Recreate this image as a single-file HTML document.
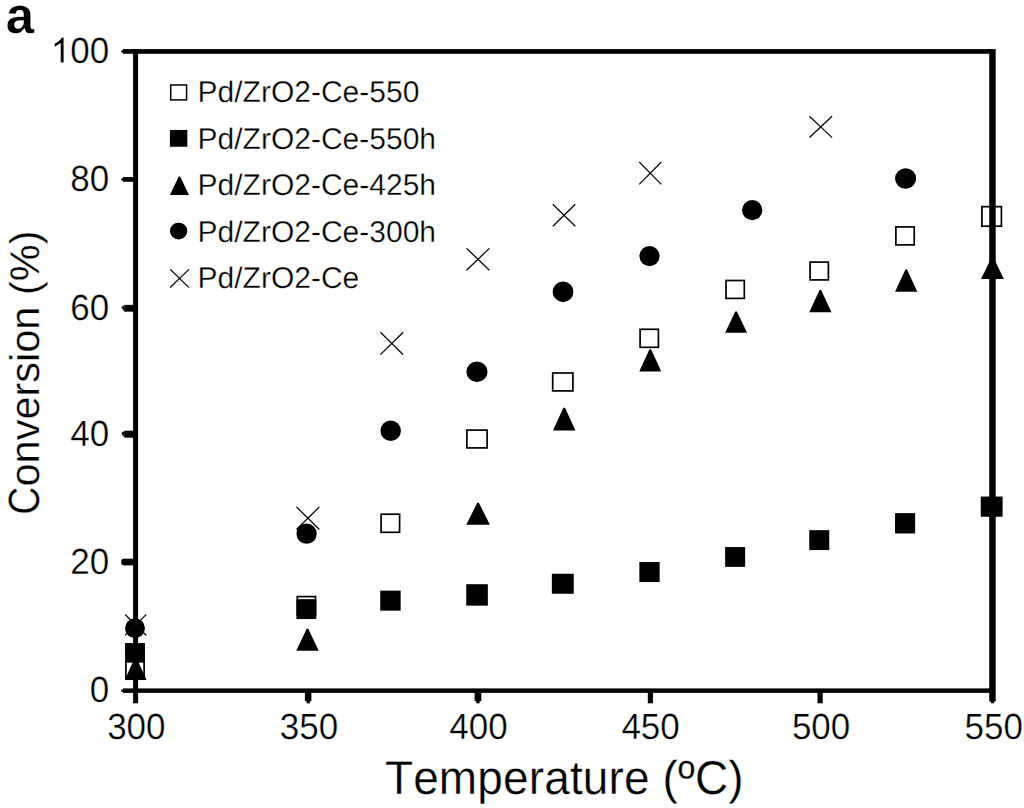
<!DOCTYPE html>
<html><head><meta charset="utf-8"><title>Conversion vs Temperature</title>
<style>
html,body{margin:0;padding:0;background:#fff;}
body{width:1024px;height:808px;overflow:hidden;font-family:"Liberation Sans", sans-serif;}
svg{display:block;}
text{font-kerning:none;}
</style></head>
<body>
<svg width="1024" height="808" viewBox="0 0 1024 808" shape-rendering="geometricPrecision" text-rendering="geometricPrecision">
<rect x="0" y="0" width="1024" height="808" fill="#fff"/>
<g fill="#000">
<rect x="133.1" y="49" width="5" height="654.3"/>
<rect x="123" y="49.1" width="869" height="4.7"/>
<rect x="121.2" y="50.4" width="2" height="2.2"/>
<rect x="123" y="688.4" width="869" height="4.5"/>
<rect x="121.2" y="689.6" width="2" height="2.2"/>
<rect x="123" y="177.1" width="11" height="4.7"/>
<rect x="121.2" y="178.4" width="2" height="2.2"/>
<rect x="124.4" y="304.9" width="9.6" height="6.8"/>
<path d="M124.6 304.9L121.2 307.3L124.6 311.7z"/>
<rect x="124.4" y="430.7" width="9.6" height="7"/>
<path d="M124.6 430.7L121.2 433.2L124.6 437.7z"/>
<rect x="123.4" y="558.7" width="10.6" height="6.7"/>
<ellipse cx="123.6" cy="562" rx="2.4" ry="3.3"/>
<rect x="304.9" y="690" width="6.5" height="11.2"/>
<rect x="306.6" y="701" width="3.3" height="2.3"/>
<rect x="474.6" y="690" width="6.7" height="11.2"/>
<rect x="476.2" y="701" width="3.4" height="2.3"/>
<rect x="647.8" y="690" width="5.2" height="13.3"/>
<rect x="817.5" y="690" width="5.2" height="13.3"/>
</g>
<g fill="#000">
<rect x="125.9" y="661.2" width="18.2" height="18" fill="none" stroke="#000" stroke-width="1.7"/>
<rect x="297.3" y="596.6" width="18.2" height="18.2" fill="none" stroke="#000" stroke-width="1.7"/>
<rect x="381.1" y="514.2" width="18.5" height="18.1" fill="none" stroke="#000" stroke-width="1.7"/>
<rect x="466.9" y="430.1" width="20.2" height="17.8" fill="none" stroke="#000" stroke-width="1.7"/>
<rect x="552.7" y="373" width="20.2" height="17.9" fill="none" stroke="#000" stroke-width="1.7"/>
<rect x="640.1" y="329.3" width="18.3" height="18" fill="none" stroke="#000" stroke-width="1.7"/>
<rect x="726" y="280.5" width="18.3" height="17.9" fill="none" stroke="#000" stroke-width="1.7"/>
<rect x="810.1" y="262.1" width="18.3" height="17.8" fill="none" stroke="#000" stroke-width="1.7"/>
<rect x="895.9" y="226.9" width="18.35" height="18" fill="none" stroke="#000" stroke-width="1.7"/>
<rect x="981.9" y="206.65" width="19.5" height="19.55" fill="none" stroke="#000" stroke-width="1.7"/>
<rect x="125.05" y="643.05" width="19.9" height="19.6"/>
<rect x="296.45" y="599.15" width="19.9" height="19.9"/>
<rect x="380.25" y="590.65" width="20.4" height="20"/>
<rect x="466.25" y="584.2" width="21.6" height="21.45"/>
<rect x="551.85" y="573.75" width="21.9" height="20"/>
<rect x="639.35" y="562.05" width="20.3" height="20"/>
<rect x="725.15" y="547.05" width="20" height="19.8"/>
<rect x="809.25" y="530.15" width="20" height="19.9"/>
<rect x="895.05" y="513.15" width="20.05" height="20.3"/>
<rect x="980.75" y="496.55" width="21.85" height="20.2"/>
<polygon points="124.75,679.95 146.55,679.95 136.45,657.85 134.85,657.85"/>
<polygon points="296.25,650.75 318.75,650.75 308.3,628.85 306.7,628.85"/>
<polygon points="466.25,524.85 489.85,524.85 478.85,502.65 477.25,502.65"/>
<polygon points="552.95,430.45 575.45,430.45 565,407.65 563.4,407.65"/>
<polygon points="639.25,371.55 661.25,371.55 651.05,349.25 649.45,349.25"/>
<polygon points="725.15,332.85 747.05,332.85 736.9,311.4 735.3,311.4"/>
<polygon points="809.25,312.35 831.45,312.35 821.15,289.95 819.55,289.95"/>
<polygon points="895.05,291.85 917.35,291.85 907,269.55 905.4,269.55"/>
<polygon points="981.05,278.95 1003.85,278.95 993.25,256.95 991.65,256.95"/>
<ellipse cx="135" cy="628.3" rx="9.95" ry="9.95"/>
<ellipse cx="306.6" cy="533.7" rx="10.15" ry="10.15"/>
<ellipse cx="390.7" cy="430.8" rx="10.25" ry="10.25"/>
<ellipse cx="476.95" cy="371.8" rx="10.55" ry="10.25"/>
<ellipse cx="563.05" cy="291.77" rx="10.4" ry="10.38"/>
<ellipse cx="649.5" cy="256.1" rx="10.15" ry="10.15"/>
<ellipse cx="752.2" cy="210.15" rx="10.15" ry="10.2"/>
<ellipse cx="905.6" cy="178.5" rx="10.55" ry="10.25"/>
<path d="M125.6 614.9L145.9 634.95M145.9 614.9L125.6 634.95" fill="none" stroke="#0a0a0a" stroke-width="1.3" stroke-linecap="square"/>
<path d="M296.9 507.4L318.9 529M318.9 507.4L296.9 529" fill="none" stroke="#0a0a0a" stroke-width="1.3" stroke-linecap="square"/>
<path d="M380.9 332.7L402.7 354.2M402.7 332.7L380.9 354.2" fill="none" stroke="#0a0a0a" stroke-width="1.3" stroke-linecap="square"/>
<path d="M467.05 248.8L488.9 269.8M488.9 248.8L467.05 269.8" fill="none" stroke="#0a0a0a" stroke-width="1.3" stroke-linecap="square"/>
<path d="M553.3 204.7L574.8 225.8M574.8 204.7L553.3 225.8" fill="none" stroke="#0a0a0a" stroke-width="1.3" stroke-linecap="square"/>
<path d="M639.7 162.5L660.8 183.9M660.8 162.5L639.7 183.9" fill="none" stroke="#0a0a0a" stroke-width="1.3" stroke-linecap="square"/>
<path d="M809.9 116.7L831.6 137.1M831.6 116.7L809.9 137.1" fill="none" stroke="#0a0a0a" stroke-width="1.3" stroke-linecap="square"/>
<rect x="989.2" y="49.1" width="6.5" height="652.3"/>
<rect x="990.9" y="701" width="3.3" height="2.3"/>
</g>
<g fill="#000">
<rect x="170.7" y="85" width="15.9" height="14.9" fill="none" stroke="#000" stroke-width="1.5"/>
<rect x="169.95" y="129.95" width="17.4" height="16.8"/>
<polygon points="169.95,195.05 188.95,195.05 180.15,176.55 178.75,176.55"/>
<ellipse cx="178.65" cy="231.1" rx="8.7" ry="8.45"/>
<path d="M170.6 269.8L188.5 287.1M188.5 269.8L170.6 287.1" fill="none" stroke="#0a0a0a" stroke-width="1.3" stroke-linecap="square"/>
</g>
<g font-family='"Liberation Sans", sans-serif' font-size="30" fill="#000" stroke="#fff" stroke-width="0.3">
<text x="197.6" y="102.4">Pd/ZrO2-Ce-550</text>
<text x="197.6" y="149.3">Pd/ZrO2-Ce-550h</text>
<text x="197.6" y="195.3">Pd/ZrO2-Ce-425h</text>
<text x="197.6" y="242">Pd/ZrO2-Ce-300h</text>
<text x="197.6" y="287.8">Pd/ZrO2-Ce</text>
</g>
<g font-family='"Liberation Sans", sans-serif' font-size="35" fill="#000">
<path transform="translate(50.7 62.6) scale(0.017090 -0.017090)" d="M763 0H583V1147Q518 1085 412.5 1023T223 930V1104Q374 1175 487 1276T647 1472H763Z" stroke="#fff" stroke-width="17.6"/>
<text transform="translate(70.17 62.6) scale(1 1.04)" stroke="#fff" stroke-width="0.3">00</text>
<text transform="translate(70.17 191.3) scale(1 1.04)" stroke="#fff" stroke-width="0.3">80</text>
<text transform="translate(70.17 319.8) scale(1 1.04)" stroke="#fff" stroke-width="0.3">60</text>
<text transform="translate(70.17 446.2) scale(1 1.04)" stroke="#fff" stroke-width="0.3">40</text>
<text transform="translate(70.17 574) scale(1 1.04)" stroke="#fff" stroke-width="0.3">20</text>
<text transform="translate(89.63 701.7) scale(1 1.04)" stroke="#fff" stroke-width="0.3">0</text>
<text transform="translate(107.15 738.5) scale(1 1.04)" stroke="#fff" stroke-width="0.3">300</text>
<text transform="translate(279.7 738.5) scale(1 1.04)" stroke="#fff" stroke-width="0.3">350</text>
<text transform="translate(449.2 738.5) scale(1 1.04)" stroke="#fff" stroke-width="0.3">400</text>
<text transform="translate(621.4 738.5) scale(1 1.04)" stroke="#fff" stroke-width="0.3">450</text>
<text transform="translate(791.9 738.5) scale(1 1.04)" stroke="#fff" stroke-width="0.3">500</text>
<text transform="translate(964.6 738.5) scale(1 1.04)" stroke="#fff" stroke-width="0.3">550</text>
</g>
<text font-family='"Liberation Sans", sans-serif' font-size="46" transform="translate(384.9 793.7) scale(1 1.035)" letter-spacing="0.13" fill="#000" stroke="#fff" stroke-width="0.3">Temperature (ºC)</text>
<text font-family='"Liberation Sans", sans-serif' font-size="42" transform="translate(38.6 514.7) rotate(-90) scale(0.925 1.044)" fill="#000" stroke="#fff" stroke-width="0.3">C</text>
<text font-family='"Liberation Sans", sans-serif' font-size="41.5" transform="translate(38.6 486.5) rotate(-90)" fill="#000" stroke="#fff" stroke-width="0.3">onversion (%)</text>
<text font-family='"Liberation Sans", sans-serif' font-size="51" font-weight="bold" x="5.8" y="33.2" fill="#000" stroke="#fff" stroke-width="0.3">a</text>
</svg>
</body></html>
